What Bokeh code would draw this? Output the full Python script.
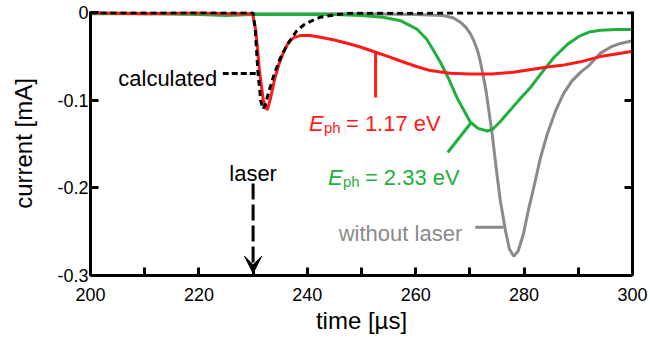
from bokeh.plotting import figure
from bokeh.models import Range1d, LinearAxis, FixedTicker, Arrow, VeeHead, Label
from bokeh.embed import file_html
from bokeh.resources import INLINE

FONT = "Liberation Sans"

# ---- data (time in µs, current in mA) ----
t_red = [200, 210, 220, 225, 229.9, 230.5, 231.2, 231.9, 232.6, 233.2, 234.0, 234.7, 235.6,
         236.6, 237.6, 238.7, 240.5, 242.4, 245, 247.5, 249.8, 252.6, 255, 257.2, 260, 262.7,
         266.4, 270, 274, 278, 281, 284.3, 287, 290.4, 294, 297, 300]
i_red = [0, -0.001, 0, -0.001, -0.001, -0.02, -0.068, -0.100, -0.111, -0.098, -0.075, -0.060, -0.045,
         -0.033, -0.028, -0.026, -0.026, -0.028, -0.031, -0.035, -0.039, -0.045, -0.050, -0.055, -0.061, -0.066,
         -0.069, -0.070, -0.070, -0.068, -0.065, -0.062, -0.060, -0.056, -0.050, -0.047, -0.044]

t_calc = [200, 230.0, 230.4, 230.9, 231.4, 231.8, 232.2, 233, 234, 235, 236, 237, 238, 239.3,
          240.5, 242.4, 245.5, 248, 300]
i_calc = [0, 0, -0.02, -0.068, -0.100, -0.110, -0.106, -0.088, -0.068, -0.052, -0.040, -0.030, -0.021, -0.014,
          -0.010, -0.005, -0.002, -0.0005, 0]

t_green = [200, 210, 220, 225, 230, 235, 240, 245, 250, 254, 257.2, 260.3, 262, 263.3, 264.6, 265.9,
           267.7, 270.1, 271.5, 273.2, 274.2, 275.5, 276.9, 279, 281.2, 283.3, 285.5, 288, 290.4, 292,
           294.1, 297, 300]
i_green = [-0.001, -0.001, -0.002, -0.003, -0.002, -0.002, -0.002, -0.002, -0.003, -0.005, -0.009, -0.019,
           -0.030, -0.043, -0.057, -0.073, -0.098, -0.125, -0.132, -0.135, -0.133, -0.125, -0.115, -0.100,
           -0.085, -0.068, -0.051, -0.036, -0.026, -0.022, -0.020, -0.019, -0.019]

t_gray = [200, 220, 240, 250, 260, 265.1, 267, 268.3, 269.3, 270.1, 270.8, 271.4, 271.9, 272.4, 273.0,
          273.5, 274.1, 274.8, 275.6, 276.6, 277.3, 278.1, 278.9, 279.9, 280.8, 281.8, 283, 284.3, 285.8,
          287.3, 288.8, 290.4, 292, 293.5, 294.1, 296, 297.8, 300]
i_gray = [0, -0.001, -0.001, -0.001, -0.002, -0.003, -0.006, -0.011, -0.017, -0.024, -0.033, -0.043, -0.055,
          -0.070, -0.090, -0.112, -0.138, -0.175, -0.214, -0.250, -0.270, -0.278, -0.272, -0.252, -0.225,
          -0.199, -0.166, -0.138, -0.112, -0.092, -0.078, -0.068, -0.060, -0.050, -0.046, -0.039, -0.035, -0.032]

x_major = [200, 220, 240, 260, 280, 300]
x_minor = [210, 230, 250, 270, 290]
y_ticks = [-0.3, -0.2, -0.1, 0]
y_labels = ["-0.3", "-0.2", "-0.1", "0"]

RED = "#ff1a1a"
GREEN = "#1fb03c"
GRAY = "#8a8a8a"

p = figure(width=650, height=340, output_backend="svg", toolbar_location=None,
           x_range=Range1d(200, 300), y_range=Range1d(-0.3, 0.0015),
           min_border_left=90, min_border_right=18, min_border_top=11, min_border_bottom=65)
p.outline_line_color = None
p.background_fill_alpha = 0
p.grid.visible = False

xa = p.xaxis[0]
xa.ticker = FixedTicker(ticks=x_major, minor_ticks=x_minor)
ya = p.yaxis[0]
ya.ticker = FixedTicker(ticks=y_ticks, minor_ticks=[])
ya.major_label_overrides = {v: s for v, s in zip(y_ticks, y_labels)}
for ax in (xa, ya):
    ax.axis_line_width = 3
    ax.major_tick_line_width = 3
    ax.minor_tick_line_width = 3
    ax.major_tick_in = 8
    ax.major_tick_out = 0
    ax.minor_tick_in = 8
    ax.minor_tick_out = 0
    ax.major_label_text_font = FONT
    ax.major_label_text_font_size = "18px"
    ax.major_label_text_color = "black"
    ax.axis_label_text_font = FONT
    ax.axis_label_text_font_size = "24px"
    ax.axis_label_text_font_style = "normal"
    ax.axis_label_text_color = "black"
xa.axis_label = "time [µs]"
xa.major_label_standoff = 12
xa.axis_label_standoff = 3
ya.axis_label = "current [mA]"
ya.major_label_standoff = 2
ya.axis_label_standoff = 17

ra = LinearAxis(ticker=FixedTicker(ticks=[-0.2, -0.1], minor_ticks=[]),
                axis_line_width=3, major_tick_line_width=3, major_tick_in=8, major_tick_out=0,
                minor_tick_in=0, minor_tick_out=0,
                major_label_overrides={-0.2: "", -0.1: ""}, major_label_text_font_size="1px")
p.add_layout(ra, "right")

p.line(t_gray, i_gray, line_color=GRAY, line_width=3)
p.line(t_green, i_green, line_color=GREEN, line_width=3)
p.line(t_red, i_red, line_color=RED, line_width=3)
p.line(t_calc, i_calc, line_color="black", line_width=3, line_dash="6 4")

# leader lines
p.line([224.4, 230.8], [-0.0693, -0.0693], line_color="black", line_width=3, line_dash="6 3")
p.line([252.6, 252.6], [-0.045, -0.0968], line_color=RED, line_width=3)
p.line([265.9, 270.1], [-0.1595, -0.1264], line_color=GREEN, line_width=3)
p.line([271.0, 276.2], [-0.245, -0.245], line_color=GRAY, line_width=3)

p.add_layout(Arrow(end=VeeHead(size=17, fill_color="black", line_color="black", line_width=1),
                   x_start=230, y_start=-0.195, x_end=230, y_end=-0.2975,
                   line_width=3, line_dash="16 5", line_color="black"))

def lab(x, y, text, color="black", size="22px", align="left", xo=0, yo=0, style="normal"):
    p.add_layout(Label(x=x, y=y, text=text, text_color=color, text_font=FONT,
                       text_font_size=size, text_align=align, text_baseline="alphabetic",
                       x_offset=xo, y_offset=yo, text_font_style=style))

lab(223.4, -0.075, "calculated", align="right")
lab(230, -0.1835, "laser", align="center")
lab(240.3, -0.1265, "E", RED, style="italic")
lab(240.3, -0.1265, "ph", RED, size="15px", xo=15, yo=-4)
lab(240.3, -0.1265, "= 1.17 eV", RED, xo=37)
lab(243.8, -0.188, "E", GREEN, style="italic")
lab(243.8, -0.188, "ph", GREEN, size="15px", xo=15, yo=-4)
lab(243.8, -0.188, "= 2.33 eV", GREEN, xo=37)
lab(245.8, -0.252, "without laser", GRAY)

open("out.html", "w").write(file_html(p, INLINE))
